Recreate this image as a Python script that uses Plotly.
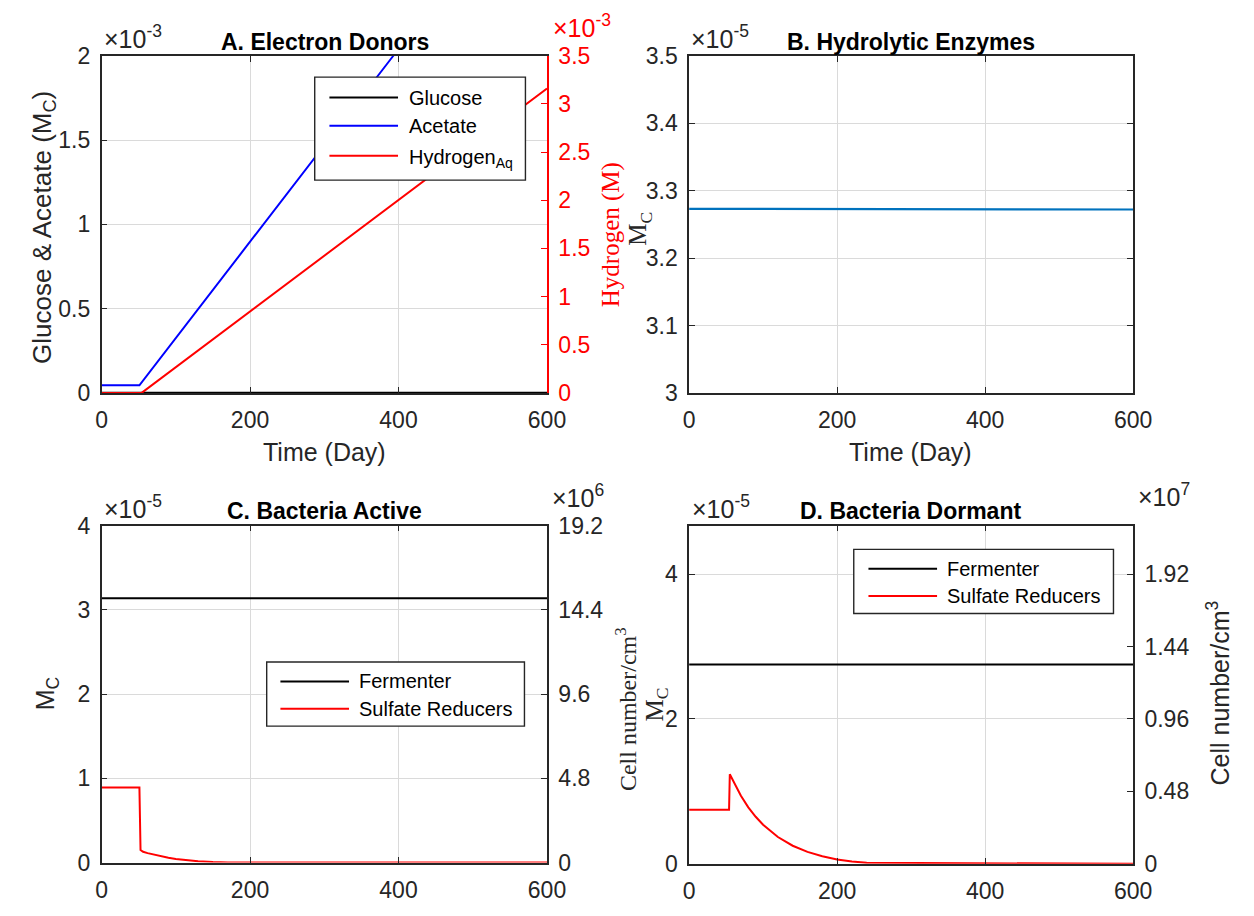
import plotly.graph_objects as go

W, H = 1254, 916


def px(x):
    return x / W


def py(y):
    return 1 - y / H


# ---------------- data (display units; multipliers shown on the axes) -------------
# Panel A: electron donors, x10^-3
t_glucose = [0, 600]
glucose_e3 = [0.0, 0.0]
t_acetate = [0, 51, 393, 600]
acetate_e3 = [0.045, 0.045, 2.0, 3.18]
t_hydrogen = [0, 54, 600]
hydrogen_e3 = [0.0, 0.0, 3.16]

# Panel B: hydrolytic enzymes, x10^-5
t_enzyme = [0, 55, 60, 600]
enzyme_e5 = [3.273, 3.273, 3.272, 3.272]

# Panel C: bacteria active, x10^-5
t_ferm_active = [0, 600]
ferm_active_e5 = [3.14, 3.14]
t_sr_active = [0, 51, 52.5, 56, 62, 70, 80, 90, 100, 115, 130, 150, 170, 600]
sr_active_e5 = [0.893, 0.893, 0.15, 0.128, 0.112, 0.095, 0.075, 0.057, 0.043,
                0.027, 0.016, 0.007, 0.002, 0.0]

# Panel D: bacteria dormant, x10^-5
t_ferm_dormant = [0, 600]
ferm_dormant_e5 = [2.75, 2.75]
t_sr_dormant = [0, 54, 55, 60, 70, 80, 90, 100, 110, 120, 140, 160, 180, 200, 220, 240, 600]
sr_dormant_e5 = [0.745, 0.745, 1.236, 1.13, 0.94, 0.78, 0.65, 0.54, 0.45, 0.37,
                 0.25, 0.165, 0.105, 0.06, 0.032, 0.015, 0.0]

# ticks
x_ticks = [0, 200, 400, 600]
a_left_ticks = [0, 0.5, 1, 1.5, 2]
a_left_text = ["0", "0.5", "1", "1.5", "2"]
a_right_ticks = [0, 0.5, 1, 1.5, 2, 2.5, 3, 3.5]
a_right_text = ["0", "0.5", "1", "1.5", "2", "2.5", "3", "3.5"]
b_ticks = [3.0, 3.1, 3.2, 3.3, 3.4, 3.5]
b_text = ["3", "3.1", "3.2", "3.3", "3.4", "3.5"]
c_left_ticks = [0, 1, 2, 3, 4]
c_right_ticks = [0, 4.8, 9.6, 14.4, 19.2]
c_right_text = ["0", "4.8", "9.6", "14.4", "19.2"]
d_left_ticks = [0, 2, 4]
d_right_ticks = [0, 0.48, 0.96, 1.44, 1.92]
d_right_text = ["0", "0.48", "0.96", "1.44", "1.92"]

# ---------------- style ----------------
SANS = "Liberation Sans, Arial, sans-serif"
SERIF = "Liberation Serif, Times New Roman, serif"
AX = "#262626"
GRID = "#dadada"
TICKFONT = dict(family=SANS, size=23, color=AX)
BLACK, BLUE, RED, MBLUE = "#000000", "#0000FF", "#FF0000", "#0072BD"

XA = [px(97.5), px(552)]
XB = [px(697), px(1150)]
YTOP = [py(391), py(44)]
YC = [py(874.4), py(527.7)]
YD = [py(875.7), py(527.7)]

fig = go.Figure()

# Panel A
fig.add_trace(go.Scatter(x=t_glucose, y=glucose_e3, name="Glucose", mode="lines",
                         line=dict(color=BLACK, width=2.5), xaxis="x", yaxis="y"))
fig.add_trace(go.Scatter(x=t_acetate, y=acetate_e3, name="Acetate", mode="lines",
                         line=dict(color=BLUE, width=2), xaxis="x", yaxis="y"))
fig.add_trace(go.Scatter(x=t_hydrogen, y=hydrogen_e3, name="Hydrogen<sub>Aq</sub>", mode="lines",
                         line=dict(color=RED, width=2), xaxis="x", yaxis="y2"))
# Panel B
fig.add_trace(go.Scatter(x=t_enzyme, y=enzyme_e5, name="Enzymes", mode="lines",
                         line=dict(color=MBLUE, width=2.2), xaxis="x2", yaxis="y3"))
# Panel C
fig.add_trace(go.Scatter(x=t_ferm_active, y=ferm_active_e5, name="Fermenter", mode="lines",
                         line=dict(color=BLACK, width=2), xaxis="x3", yaxis="y4"))
fig.add_trace(go.Scatter(x=t_sr_active, y=sr_active_e5, name="Sulfate Reducers", mode="lines",
                         line=dict(color=RED, width=2), xaxis="x3", yaxis="y4"))
# Panel D
fig.add_trace(go.Scatter(x=t_ferm_dormant, y=ferm_dormant_e5, name="Fermenter", mode="lines",
                         line=dict(color=BLACK, width=2), xaxis="x4", yaxis="y6"))
fig.add_trace(go.Scatter(x=t_sr_dormant, y=sr_dormant_e5, name="Sulfate Reducers", mode="lines",
                         line=dict(color=RED, width=2), xaxis="x4", yaxis="y6"))
# invisible traces to activate right axes of C and D
fig.add_trace(go.Scatter(x=[None], y=[None], xaxis="x3", yaxis="y5", hoverinfo="skip"))
fig.add_trace(go.Scatter(x=[None], y=[None], xaxis="x4", yaxis="y7", hoverinfo="skip"))


def xax(domain, anchor):
    return dict(domain=domain, anchor=anchor, range=[0, 600], tickvals=x_ticks,
                ticktext=[str(v) for v in x_ticks], showgrid=True, gridcolor=GRID,
                gridwidth=1, ticks="inside", ticklen=6, tickcolor=AX, showline=True,
                linecolor=AX, linewidth=1.5, mirror="ticks", zeroline=False,
                tickfont=TICKFONT, ticklabelstandoff=6, fixedrange=True)


def yleft(domain, anchor, rng, vals, text, mirror=False):
    return dict(domain=domain, anchor=anchor, range=rng, tickvals=vals, ticktext=text,
                showgrid=True, gridcolor=GRID, gridwidth=1, ticks="inside", ticklen=6,
                tickcolor=AX, showline=True, linecolor=AX, linewidth=1.5,
                mirror=("ticks" if mirror else False), zeroline=False,
                tickfont=TICKFONT, ticklabelstandoff=5, fixedrange=True)


def yright(over, anchor, rng, vals, text, color=AX):
    return dict(overlaying=over, anchor=anchor, side="right", range=rng, tickvals=vals,
                ticktext=text, showgrid=False, ticks="inside", ticklen=6, tickcolor=color,
                showline=True, linecolor=color, linewidth=1.5, zeroline=False,
                tickfont=dict(family=SANS, size=23, color=color), ticklabelstandoff=5,
                fixedrange=True)


def ann(text, x, y, size, family=SANS, color=AX, angle=0, xanchor="center", yanchor="middle"):
    return dict(text=text, x=px(x), y=py(y), xref="paper", yref="paper", showarrow=False,
                font=dict(family=family, size=size, color=color), textangle=angle,
                xanchor=xanchor, yanchor=yanchor)


def sup_exp(exp):
    return "×10<sup>" + exp + "</sup>"


annotations = [
    ann("<b>A. Electron Donors</b>", 325, 30, 23, color=BLACK),
    ann("<b>B. Hydrolytic Enzymes</b>", 923, 30, 23, color=BLACK),
    ann("<b>C. Bacteria Active</b>", 325, 513, 23, color=BLACK),
    ann("<b>D. Bacteria Dormant</b>", 923, 513, 23, color=BLACK),
    ann(sup_exp("-3"), 98, 25, 25, xanchor="left"),
    ann(sup_exp("-3"), 556, 13, 25, color=RED, xanchor="left"),
    ann(sup_exp("-5"), 697, 25, 25, xanchor="left"),
    ann(sup_exp("-5"), 98, 508, 25, xanchor="left"),
    ann(sup_exp("6"), 555, 497, 25, xanchor="left"),
    ann(sup_exp("-5"), 698, 508, 25, xanchor="left"),
    ann(sup_exp("7"), 1153, 496, 25, xanchor="left"),
    ann("Glucose &amp; Acetate (M<sub>C</sub>)", 38, 221, 26, angle=-90),
    ann("Hydrogen (M)", 617, 228, 25, family=SERIF, color=RED, angle=-90),
    ann("Time (Day)", 325, 452, 25),
    ann("M<sub>C</sub>", 647, 222, 25, family=SERIF, angle=-90),
    ann("Time (Day)", 923, 452, 25),
    ann("M<sub>C</sub>", 42, 701, 25, angle=-90),
    ann("Cell number/cm<sup>3</sup>", 632, 716, 24, family=SERIF, angle=-90),
    ann("M<sub>C</sub>", 664, 712, 25, family=SERIF, angle=-90),
    ann("Cell number/cm<sup>3</sup>", 1237, 700, 25, angle=-90),
]

# ---------- legends drawn as boxes with sample lines and labels ----------
legend_a = dict(box=(315, 66, 530, 172), line_x=(330, 400), text_x=409,
                rows=[(87, "Glucose", BLACK, 87), (116, "Acetate", BLUE, 116),
                      (147, "Hydrogen<sub>Aq</sub>", RED, 150)])
legend_c = dict(box=(266, 668, 529, 734), line_x=(280, 350), text_x=358,
                rows=[(688, "Fermenter", BLACK, 688), (716, "Sulfate Reducers", RED, 716)])
legend_d = dict(box=(865, 552, 1130, 618), line_x=(880, 950), text_x=958,
                rows=[(572, "Fermenter", BLACK, 572), (600, "Sulfate Reducers", RED, 600)])

shapes = []
for lg in (legend_a, legend_c, legend_d):
    x0, y0, x1, y1 = lg["box"]
    shapes.append(dict(type="rect", xref="paper", yref="paper", x0=px(x0), x1=px(x1),
                       y0=py(y1), y1=py(y0), fillcolor="white",
                       line=dict(color=AX, width=1.4), layer="above"))
    for ly, label, col, ty in lg["rows"]:
        shapes.append(dict(type="line", xref="paper", yref="paper", x0=px(lg["line_x"][0]),
                           x1=px(lg["line_x"][1]), y0=py(ly), y1=py(ly),
                           line=dict(color=col, width=2), layer="above"))
        annotations.append(ann(label, lg["text_x"], ty, 20, color=BLACK, xanchor="left"))

fig.update_layout(
    width=W, height=H, autosize=False,
    margin=dict(l=0, r=0, t=0, b=0),
    paper_bgcolor="white", plot_bgcolor="white",
    font=dict(family=SANS, color=AX),
    showlegend=False,
    xaxis=xax(XA, "y"),
    yaxis=yleft(YTOP, "x", [0, 2], a_left_ticks, a_left_text),
    yaxis2=yright("y", "x", [0, 3.5], a_right_ticks, a_right_text, color=RED),
    xaxis2=xax(XB, "y3"),
    yaxis3=yleft(YTOP, "x2", [3.0, 3.5], b_ticks, b_text, mirror=True),
    xaxis3=xax(XA, "y4"),
    yaxis4=yleft(YC, "x3", [0, 4], c_left_ticks, [str(v) for v in c_left_ticks]),
    yaxis5=yright("y4", "x3", [0, 19.2], c_right_ticks, c_right_text),
    xaxis4=xax(XB, "y6"),
    yaxis6=yleft(YD, "x4", [0, 4.667], d_left_ticks, [str(v) for v in d_left_ticks]),
    yaxis7=yright("y6", "x4", [0, 2.24], d_right_ticks, d_right_text),
    shapes=shapes,
    annotations=annotations,
)

fig.write_html("out.html")
